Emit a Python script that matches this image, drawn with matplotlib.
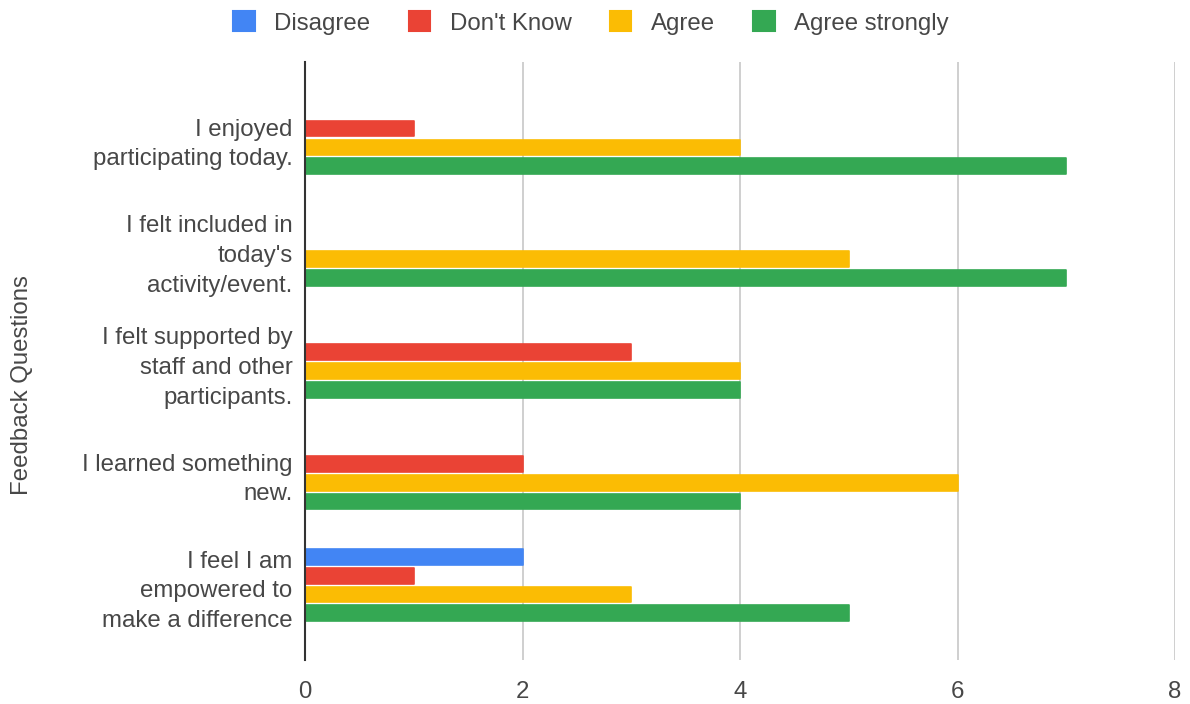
import matplotlib
matplotlib.use("Agg")
import matplotlib.pyplot as plt
import numpy as np
from matplotlib.patches import Patch

categories = [
    "I enjoyed\nparticipating today.",
    "I felt included in\ntoday's\nactivity/event.",
    "I felt supported by\nstaff and other\nparticipants.",
    "I learned something\nnew.",
    "I feel I am\nempowered to\nmake a difference",
]
series_names = ["Disagree", "Don't Know", "Agree", "Agree strongly"]
disagree = [0, 0, 0, 0, 2]
dont_know = [1, 0, 3, 2, 1]
agree = [4, 5, 4, 6, 3]
agree_strongly = [7, 7, 4, 4, 5]
x_ticks = [0, 2, 4, 6, 8]

colors = ["#4285F4", "#EA4335", "#FBBC04", "#34A853"]
series = [disagree, dont_know, agree, agree_strongly]

plt.rcParams['font.family'] = ['Liberation Sans', 'DejaVu Sans']
text_color = "#474747"
fs = 17.3

fig = plt.figure(figsize=(11.9, 7.04), dpi=100)
ax = fig.add_axes([305/1190, 44/704, 870/1190, 598/704])

y = np.arange(len(categories))
slot = 0.168
bh = 0.14
for i, (vals, c) in enumerate(zip(series, colors)):
    offs = (i - 1.5) * slot
    for yy, v in zip(y, vals):
        if v > 0:
            ax.barh(yy + offs, v, height=bh, color=c, edgecolor=c, linewidth=1.2,
                    joinstyle='round', zorder=3)

ax.set_ylim(4.67, -0.68)
ax.set_xlim(0, 8)
ax.set_xticks(x_ticks)
ax.set_xticklabels([str(t) for t in x_ticks])
ax.set_yticks(y)
ax.set_yticklabels(categories, fontsize=fs, color=text_color, linespacing=1.45)
ax.tick_params(axis='both', length=0)
ax.tick_params(axis='x', labelsize=fs, labelcolor=text_color, pad=15)
ax.tick_params(axis='y', pad=9)

for t in [2, 4, 6, 8]:
    ax.axvline(t, color="#cccccc", linewidth=1.3, zorder=1)
for s in ["top", "right", "bottom"]:
    ax.spines[s].set_visible(False)
ax.spines["left"].set_color("#333333")
ax.spines["left"].set_linewidth(1.5)
ax.spines["left"].set_zorder(4)

fig.text(22/1190, 1 - 385/704, "Feedback Questions", rotation=90, fontsize=fs,
         color=text_color, ha='center', va='center')

handles = [Patch(facecolor=c, edgecolor=c, label=n, joinstyle='round', linewidth=1.5)
           for c, n in zip(colors, series_names)]
fig.legend(handles=handles, loc='center', bbox_to_anchor=(591/1190, 1 - 23/704), ncol=4,
           frameon=False, fontsize=fs, handlelength=0.9, handleheight=0.9,
           handletextpad=0.8, columnspacing=1.6, labelcolor=text_color)

fig.savefig("out.png", dpi=100)
